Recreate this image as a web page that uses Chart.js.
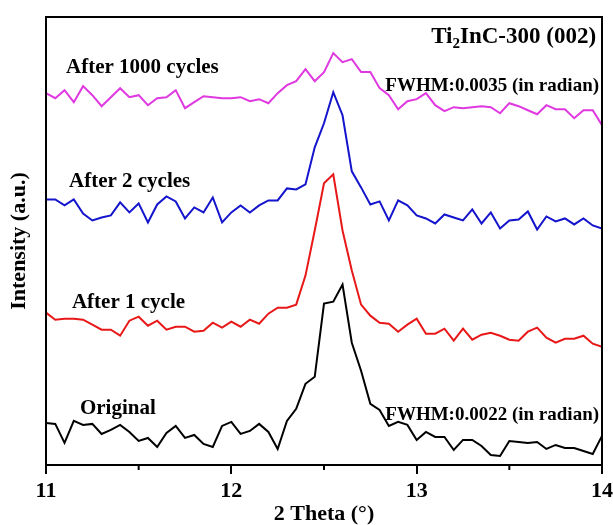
<!DOCTYPE html>
<html lang="en">
<head>
<meta charset="UTF-8">
<title>Ti2InC-300 (002)</title>
<script src="https://cdn.jsdelivr.net/npm/chart.js"></script>
<style>
  html, body { margin: 0; padding: 0; background: #fff; }
  #wrap { width: 613px; height: 525px; }
</style>
</head>
<body>
<div id="wrap"><canvas id="xrd"></canvas></div>
<script>
// 2 theta grid (degrees)
const theta = [11.00,11.05,11.10,11.15,11.20,11.25,11.30,11.35,11.40,11.45,
  11.50,11.55,11.60,11.65,11.70,11.75,11.80,11.85,11.90,11.95,
  12.00,12.05,12.10,12.15,12.20,12.25,12.30,12.35,12.40,12.45,
  12.50,12.55,12.60,12.65,12.70,12.75,12.80,12.85,12.90,12.95,
  13.00,13.05,13.10,13.15,13.20,13.25,13.30,13.35,13.40,13.45,
  13.50,13.55,13.60,13.65,13.70,13.75,13.80,13.85,13.90,13.95,14.00];

// stacked intensities (arbitrary units, offset per curve)
const original = [42,41,22,44,40,41,31,35,40,33,
  24,27,18,32,39,27,30,21,18,39,
  43,31,34,41,33,16,44,56,81,88,
  161,163,180,122,94,61,55,39,43,40,
  25,33,28,28,15,25,25,19,10,9,
  24,23,22,23,16,20,17,17,14,11,29];
const cycle1 = [152,145,146,146,145,140,135,135,129,144,
  148,139,144,135,138,138,133,134,142,137,
  143,138,145,141,151,157,157,160,189,234,
  281,290,234,194,160,149,142,141,133,140,
  146,131,131,136,124,136,125,130,132,129,
  125,124,133,137,127,122,126,126,129,121,118];
const cycle2 = [265,265,259,265,251,244,247,249,262,252,
  261,242,260,268,263,246,257,252,267,242,
  252,259,252,259,264,264,276,275,280,317,
  341,372,349,293,277,260,263,244,264,259,
  249,246,241,250,247,244,255,241,252,236,
  244,245,253,235,248,243,246,240,246,239,236];
const cycle1000 = [371,366,374,362,378,369,358,367,376,367,
  369,359,366,367,374,356,362,368,367,366,
  366,367,363,365,361,371,379,383,395,383,
  392,411,402,405,392,392,376,369,355,363,
  365,371,359,353,357,356,357,358,357,351,
  361,358,354,350,359,355,355,346,354,354,339];

const seriesNames = ['Original', 'After 1 cycle', 'After 2 cycles', 'After 1000 cycles'];
const seriesColors = ['#000000', '#e81818', '#1414cc', '#e038e0'];
const minorTicks = [11.5, 12.5, 13.5];

// text notes placed in data coordinates
const notes = [
  { text: 'After 1000 cycles', x: 11.108, y: 391, align: 'left', size: 21 },
  { text: 'After 2 cycles', x: 11.124, y: 277, align: 'left', size: 21 },
  { text: 'After 1 cycle', x: 11.14, y: 157, align: 'left', size: 21 },
  { text: 'Original', x: 11.183, y: 51, align: 'left', size: 21 },
  { text: 'FWHM:0.0035 (in radian)', x: 13.984, y: 373, align: 'right', size: 19 },
  { text: 'FWHM:0.0022 (in radian)', x: 13.984, y: 45, align: 'right', size: 19 }
];

const FONT = "'Liberation Serif', 'Times New Roman', serif";
Chart.defaults.font.family = FONT;
Chart.defaults.color = '#000';

const allSeries = [original, cycle1, cycle2, cycle1000];
const datasets = allSeries.map((vals, k) => ({
  label: seriesNames[k],
  data: theta.map((t, i) => ({ x: t, y: vals[i] })),
  borderColor: seriesColors[k],
  borderWidth: 2,
  pointRadius: 0,
  tension: 0,
  fill: false
}));

const framePlugin = {
  id: 'frame',
  afterDraw(chart) {
    const { ctx, chartArea: a, scales } = chart;
    ctx.save();
    ctx.strokeStyle = '#000';
    ctx.lineWidth = 2;
    ctx.strokeRect(a.left, a.top, a.right - a.left, a.bottom - a.top);
    ctx.beginPath();
    minorTicks.forEach(v => {
      const px = scales.x.getPixelForValue(v);
      ctx.moveTo(px, a.bottom);
      ctx.lineTo(px, a.bottom + 5);
    });
    ctx.stroke();
    ctx.restore();
  }
};

const notesPlugin = {
  id: 'notes',
  afterDraw(chart) {
    const { ctx, scales } = chart;
    ctx.save();
    ctx.fillStyle = '#000';
    ctx.textBaseline = 'alphabetic';
    notes.forEach(n => {
      ctx.font = 'bold ' + n.size + 'px ' + FONT;
      ctx.textAlign = n.align;
      ctx.fillText(n.text, scales.x.getPixelForValue(n.x), scales.y.getPixelForValue(n.y));
    });
    // title with subscript: Ti2InC-300 (002)
    const big = 'bold 23px ' + FONT, small = 'bold 15px ' + FONT;
    ctx.textAlign = 'left';
    ctx.font = big;
    const w1 = ctx.measureText('Ti').width;
    const w3 = ctx.measureText('InC-300 (002)').width;
    ctx.font = small;
    const w2 = ctx.measureText('2').width;
    const right = scales.x.getPixelForValue(13.968);
    const base = scales.y.getPixelForValue(421);
    let x0 = right - (w1 + w2 + w3);
    ctx.font = big;
    ctx.fillText('Ti', x0, base);
    ctx.font = small;
    ctx.fillText('2', x0 + w1, base + 5);
    ctx.font = big;
    ctx.fillText('InC-300 (002)', x0 + w1 + w2, base);
    ctx.restore();
  }
};

new Chart(document.getElementById('xrd'), {
  type: 'line',
  data: { datasets },
  options: {
    responsive: true,
    maintainAspectRatio: false,
    animation: false,
    layout: { padding: { top: 17, right: 0, left: 4, bottom: 0 } },
    plugins: { legend: { display: false }, tooltip: { enabled: false } },
    scales: {
      x: {
        type: 'linear',
        min: 11,
        max: 14,
        afterFit: scale => { scale.paddingRight = 11; },
        ticks: { stepSize: 1, padding: 6, color: '#000', font: { size: 22, weight: 'bold', lineHeight: 1 } },
        grid: { drawOnChartArea: false, tickLength: 9, color: '#000', lineWidth: 2 },
        border: { color: '#000', width: 2 },
        title: { display: true, text: '2 Theta (°)', color: '#000', font: { size: 22, weight: 'bold', lineHeight: 1 }, padding: { top: -5, bottom: 0 } }
      },
      y: {
        min: 0,
        max: 447,
        ticks: { display: false },
        grid: { display: false, drawTicks: false },
        border: { color: '#000', width: 2 },
        title: { display: true, text: 'Intensity (a.u.)', color: '#000', font: { size: 22, weight: 'bold', lineHeight: 1 }, padding: { top: 4, bottom: 16 } }
      }
    }
  },
  plugins: [framePlugin, notesPlugin]
});
</script>
</body>
</html>
